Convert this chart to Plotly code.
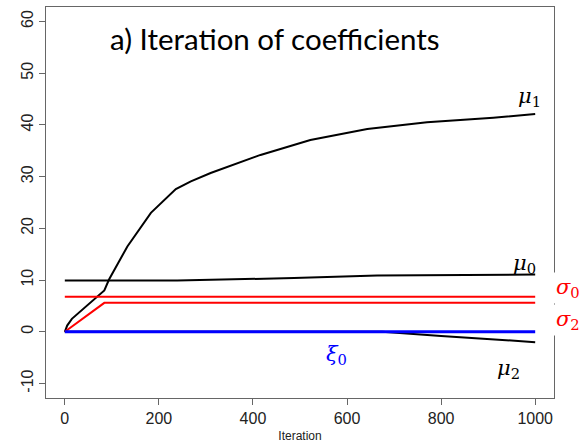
import plotly.graph_objects as go

# ---- data ----
mu1_x = [0, 5, 15, 34, 59, 80, 84, 94, 133, 183, 236, 268, 310, 416, 522, 643, 770, 911, 1000]
mu1_y = [0, 1.2, 2.5, 4.0, 5.9, 7.6, 8.0, 10.1, 16.5, 23.0, 27.6, 29.1, 30.7, 34.2, 37.1, 39.2, 40.5, 41.4, 42.1]

mu0_x = [0, 239, 487, 664, 1000]
mu0_y = [9.9, 9.9, 10.4, 10.9, 11.06]

sigma0_x = [0, 1000]
sigma0_y = [6.8, 6.8]

sigma2_x = [0, 84, 1000]
sigma2_y = [0, 5.6, 5.6]

xi0_x = [0, 1000]
xi0_y = [0, 0]

mu2_x = [0, 675, 800, 1000]
mu2_y = [0, 0, -0.8, -2.0]

x_ticks = [0, 200, 400, 600, 800, 1000]
y_ticks = [-10, 0, 10, 20, 30, 40, 50, 60]

W, H = 583, 444
L, R, T, B = 46, 29, 7, 46
pw, ph = W - L - R, H - T - B


def px(x):
    return (x - L) / pw


def py(y):
    return (H - B - y) / ph


fig = go.Figure()
fig.add_trace(go.Scatter(x=mu0_x, y=mu0_y, mode="lines", line=dict(color="black", width=2)))
fig.add_trace(go.Scatter(x=mu1_x, y=mu1_y, mode="lines", line=dict(color="black", width=2)))
fig.add_trace(go.Scatter(x=sigma0_x, y=sigma0_y, mode="lines", line=dict(color="red", width=2)))
fig.add_trace(go.Scatter(x=sigma2_x, y=sigma2_y, mode="lines", line=dict(color="red", width=2)))
fig.add_trace(go.Scatter(x=mu2_x, y=mu2_y, mode="lines", line=dict(color="black", width=2)))
fig.add_trace(go.Scatter(x=xi0_x, y=xi0_y, mode="lines", line=dict(color="blue", width=3)))

axis_common = dict(
    showgrid=False, zeroline=False, showline=True, mirror=True, automargin=False,
    linecolor="#666666", linewidth=1, ticks="outside", ticklen=6,
    tickcolor="#666666", tickfont=dict(family="Liberation Sans, Arial", size=16, color="#222222"),
)

fig.update_xaxes(range=[-40, 1040], tickvals=x_ticks, ticktext=[str(v) for v in x_ticks],
                 title=dict(text="Iteration", font=dict(family="Liberation Sans, Arial", size=12, color="#222222"),
                            standoff=5),
                 **axis_common)
fig.update_yaxes(range=[-12.8, 62.8], tickvals=y_ticks, ticktext=[str(v) for v in y_ticks],
                 tickangle=-90, **axis_common)

greek_font = dict(family="DejaVu Serif", size=21)
labels = [
    ("<i>μ</i><sub>1</sub>", 529, 97, "black", None),
    ("<i>μ</i><sub>0</sub>", 524, 264, "black", None),
    ("<i>σ</i><sub>0</sub>", 568, 288, "red", "white"),
    ("<i>σ</i><sub>2</sub>", 568, 320, "red", "white"),
    ("<i>ξ</i><sub>0</sub>", 336, 355, "blue", None),
    ("<i>μ</i><sub>2</sub>", 508, 369, "black", None),
]
for txt, x, y, col, bg in labels:
    fig.add_annotation(text=txt, xref="paper", yref="paper", x=px(x), y=py(y),
                       xanchor="center", yanchor="middle",
                       showarrow=False, font=dict(color=col, **greek_font),
                       bgcolor=bg, borderpad=2)

fig.add_annotation(text="a) Iteration of coefficients", xref="paper", yref="paper",
                   x=px(275), y=py(38), xanchor="center", yanchor="middle", showarrow=False,
                   font=dict(family="Lato", size=29.5, color="black"))

fig.update_layout(
    width=W, height=H, margin=dict(l=L, r=R, t=T, b=B),
    plot_bgcolor="white", paper_bgcolor="white", showlegend=False,
)

fig.write_html("out.html")
